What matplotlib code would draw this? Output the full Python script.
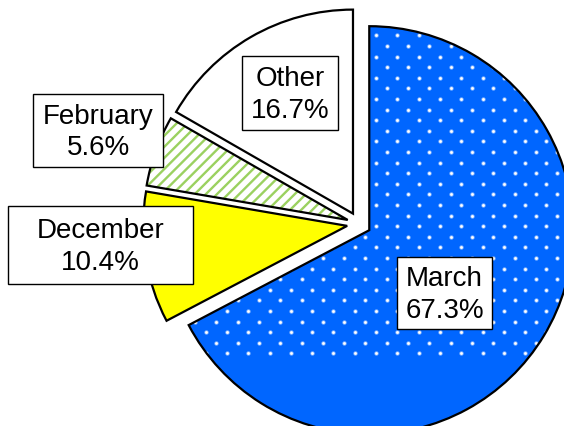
import numpy as np
import matplotlib
matplotlib.use("Agg")
import matplotlib.pyplot as plt
from matplotlib.patches import Rectangle, Wedge

# ---- data ----
categories = ["March", "December", "February", "Other"]
values = [67.3, 10.4, 5.6, 16.7]
pct_labels = ["67.3%", "10.4%", "5.6%", "16.7%"]

# ---- style / layout ----
W, H = 564, 427
plt.rcParams['font.family'] = ['Liberation Sans', 'DejaVu Sans']
plt.rcParams['hatch.linewidth'] = 1.7

fig = plt.figure(figsize=(W / 100, H / 100), dpi=100)
ax = fig.add_axes([0, 0, 1, 1])

center = (359, H - 225)
radius = 204
explode = [12] * len(values)
face = ['#0066FF', '#FFFF00', '#FFFFFF', '#FFFFFF']

wedges, _ = ax.pie(values, explode=explode, radius=radius, center=center,
                   startangle=90, counterclock=False, colors=face,
                   wedgeprops=dict(edgecolor='none', linewidth=0))

# green striped texture for February
feb = wedges[2]
feb.set_edgecolor('#9BD160')
feb.set_hatch('///')

# white dotted texture for March
mar = wedges[0]
xs, ys = [], []
row_dy, col_dx = 10.6, 21.3
x0, y0 = 408, H - 47
for k in range(-30, 30):
    yy = y0 - k * row_dy
    off = (k % 2) * (col_dx / 2)
    for i in range(-30, 30):
        xs.append(x0 + off + i * col_dx)
        ys.append(yy)
halo = ax.scatter(xs, ys, s=10, c='#80b2ff', linewidths=0, zorder=3)
halo.set_clip_path(mar)
dots = ax.scatter(xs, ys, s=4, c='#ffffff', linewidths=0, zorder=4)
dots.set_clip_path(mar)

# outlines on top
for w in wedges:
    ow = Wedge(w.center, w.r, w.theta1, w.theta2, facecolor='none',
               edgecolor='black', linewidth=1.6, zorder=5)
    ax.add_patch(ow)

# label boxes (screen px: left, top, right, bottom)
boxes = {
    "March": (397, 258, 492, 330),
    "December": (8, 207, 193, 285),
    "February": (33, 95, 163, 168),
    "Other": (242, 57, 338, 131),
}
for cat, pct in zip(categories, pct_labels):
    l, t, r, b = boxes[cat]
    ax.add_patch(Rectangle((l, H - b), r - l, b - t, facecolor='white',
                           edgecolor='black', linewidth=1.0, zorder=6))
    ax.text((l + r) / 2, H - (t + b) / 2 - 1, f"{cat}\n{pct}", ha='center',
            va='center', fontsize=20, linespacing=1.28, zorder=7)

ax.set_xlim(0, W)
ax.set_ylim(0, H)
ax.set_aspect('auto')
ax.axis('off')
fig.savefig("out.png", dpi=100)
